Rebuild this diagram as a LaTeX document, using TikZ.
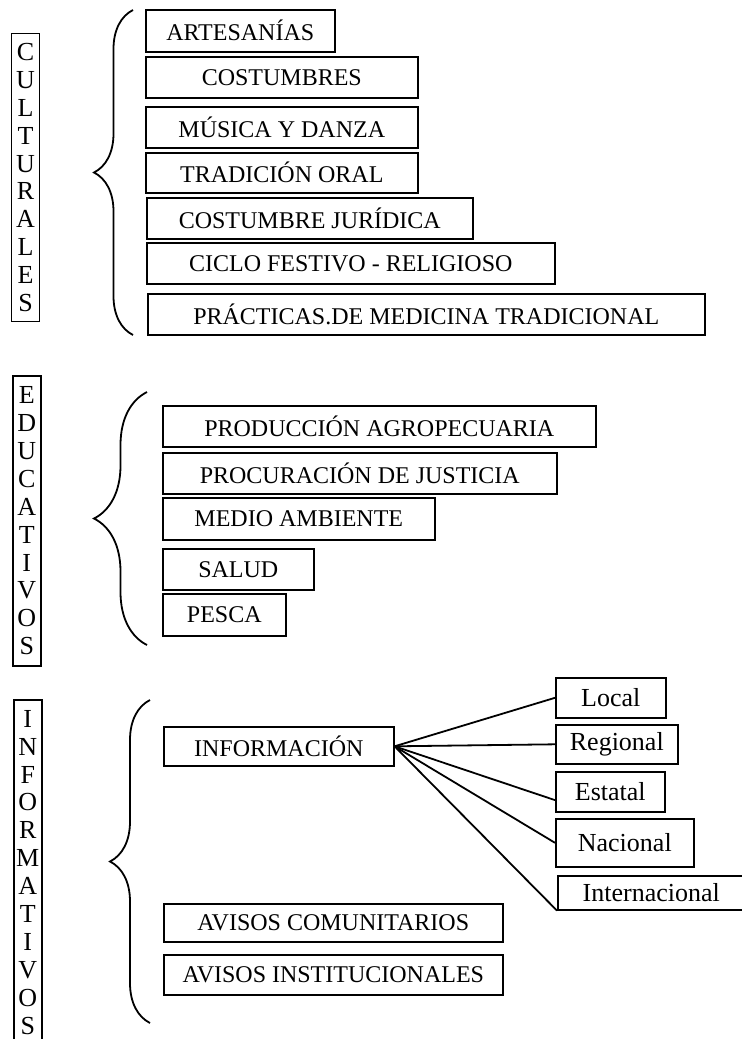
\documentclass[tikz,border=0pt]{standalone}
\usepackage{fontspec}
\setmainfont{Liberation Serif}
\usetikzlibrary{calc,decorations.pathreplacing}
\tikzset{
  box/.style 2 args={draw, line width=.8pt, anchor=north west, inner sep=0pt,
    minimum width=#1*0.5pt, minimum height=#2*0.5pt, font=\fontsize{12}{14}\selectfont},
  subbox/.style 2 args={box={#1}{#2}, font=\fontsize{13}{15}\selectfont},
  vlabel/.style={draw, line width=.8pt, anchor=north west, inner sep=0pt, minimum width=14pt,
    minimum height=#1*0.5pt, align=center, font=\fontsize{13}{13.95}\selectfont},
  curly/.style={decorate, decoration={brace, amplitude=#1}, line width=.9pt},
  link/.style={line width=.9pt}
}

\begin{document}
\begin{tikzpicture}[x=0.5pt,y=-0.5pt]
\useasboundingbox (0,0) rectangle (742,1039);
% culturales
\node[vlabel=288, line width=.5pt] (cul) at (11,33) {C\\U\\L\\T\\U\\R\\A\\L\\E\\S};
\coordinate (b1t) at (133,10); \coordinate (b1b) at (133,335);
\draw[curly=19.5pt] (b1b) -- (b1t);
\node[box={189}{42}] (art) at (145,9) {ARTESANÍAS};
\node[box={272}{41}] (cos) at (145,56) {COSTUMBRES};
\node[box={272}{41}] (mus) at (145,106) {MÚSICA Y DANZA};
\node[box={272}{40}] (tra) at (145,152) {TRADICIÓN ORAL};
\node[box={326}{41}] (jur) at (146,197) {COSTUMBRE JURÍDICA};
\node[box={408}{41}] (cic) at (146,242) {CICLO FESTIVO - RELIGIOSO};
\node[box={557}{41}] (med) at (147,293) {PRÁCTICAS.DE MEDICINA TRADICIONAL};
% educativos
\node[vlabel=290] (edu) at (12,375) {E\\D\\U\\C\\A\\T\\I\\V\\O\\S};
\coordinate (b2t) at (147,392); \coordinate (b2b) at (147,645);
\draw[curly=26.5pt] (b2b) -- (b2t);
\node[box={433}{41}] (agr) at (162,405) {PRODUCCIÓN AGROPECUARIA};
\node[box={394}{41}] (jus) at (162,452) {PROCURACIÓN DE JUSTICIA};
\node[box={272}{42}] (amb) at (162,497) {MEDIO AMBIENTE};
\node[box={151}{41}] (sal) at (162,548) {SALUD};
\node[box={123}{42}] (pes) at (162,593) {PESCA};
% informativos
\node[vlabel=345] (ifo) at (13,699) {I\\N\\F\\O\\R\\M\\A\\T\\I\\V\\O\\S};
\coordinate (b3t) at (150,700); \coordinate (b3b) at (150,1023);
\draw[curly=20pt] (b3b) -- (b3t);
\node[box={230}{39}] (inf) at (163,726) {INFORMACIÓN};
\node[subbox={110}{40}] (loc) at (555,677) {Local};
\node[subbox={122}{39}] (reg) at (555,724) {Regional};
\node[subbox={109}{40}] (est) at (555,771) {Estatal};
\node[subbox={138}{48}] (nac) at (555,818) {Nacional};
\node[subbox={187}{34}] (int) at (557,875) {Internacional};
\node[box={339}{38}] (com) at (163,903) {AVISOS COMUNITARIOS};
\node[box={339}{40}] (ins) at (163,954) {AVISOS INSTITUCIONALES};
\draw[link] (inf.east) -- (loc.west);
\draw[link] (inf.east) -- (reg.west);
\draw[link] (inf.east) -- ($(est.west)!0.4!(est.south west)$);
\draw[link] (inf.east) -- (nac.west);
\draw[link] (inf.east) -- (int.south west);
\end{tikzpicture}
\end{document}
